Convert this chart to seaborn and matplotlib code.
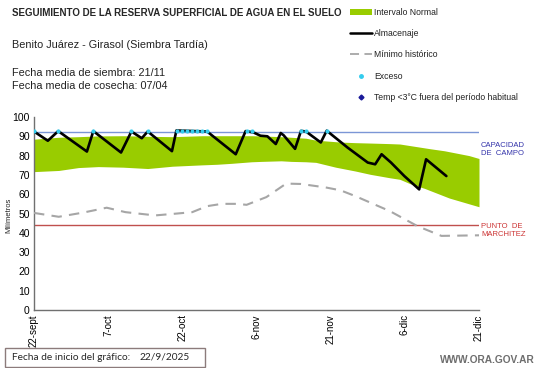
import numpy as np
import pandas as pd
import matplotlib
matplotlib.use("Agg")
import matplotlib.pyplot as plt
import seaborn as sns
from matplotlib.lines import Line2D
from matplotlib.patches import Patch, Rectangle

# ---------------- data ----------------
tick_days = [0, 15, 30, 45, 60, 75, 90]
tick_labels = ["22-sept", "7-oct", "22-oct", "6-nov", "21-nov", "6-dic", "21-dic"]

band_days = [0, 5, 9, 13, 18, 23, 28, 34, 37, 40, 44, 46, 50, 52, 55, 57, 61, 62, 65, 68, 72, 74, 76, 79, 80, 83, 84, 88, 90]
band_upper = [88.5, 89.5, 89.8, 90.2, 90.3, 90.0, 89.8, 90.3, 90.3, 90.3, 90.3, 90.2, 89.8, 89.5, 89.0, 88.0, 87.2, 87.0, 86.7, 86.5, 86.2, 86.0, 85.2, 84.0, 83.6, 82.5, 82.0, 80.0, 78.5]
band_lower = [71.7, 72.3, 73.8, 74.3, 74.0, 73.3, 74.5, 75.2, 75.5, 76.0, 76.8, 77.0, 77.3, 77.0, 76.8, 76.5, 74.0, 73.5, 72.0, 70.3, 68.5, 67.7, 65.5, 63.0, 62.0, 59.0, 58.0, 55.0, 53.5]

stor_days = [0, 2.8, 4.9, 10.7, 12, 17.6, 19.7, 21.8, 23, 27.9, 28.8, 35, 40.8, 42.8, 44.4, 45.8, 47.2, 48.9, 49.9, 50.5, 52.8, 54, 55, 58, 59.2, 63.4, 67.5, 69, 70.3, 72.2, 74.9, 77.9, 79.3, 83.4]
stor_vals = [92.5, 87.7, 92.7, 82.1, 92.7, 81.6, 92.5, 89.0, 92.5, 82.3, 93.0, 92.5, 80.7, 92.7, 92.0, 90.3, 90.0, 86.0, 91.7, 90.5, 83.5, 92.8, 92.5, 86.8, 92.9, 84.2, 76.4, 75.5, 80.7, 76.4, 69.4, 62.5, 78.1, 69.4]

min_days = [0, 5, 10, 14.7, 18.5, 24.5, 29, 32, 35, 38, 41, 43, 47, 51, 54, 59, 62, 65, 72, 77.6, 82.4, 90]
min_vals = [50.3, 48.3, 50.5, 53.0, 50.7, 49.0, 50.0, 50.7, 53.8, 55.0, 55.0, 54.5, 58.5, 65.5, 65.3, 63.5, 62.0, 59.0, 51.2, 43.4, 38.4, 38.7]

exc_days = [0, 4.9, 12, 19.7, 23, 29, 30, 31, 32, 33, 34, 35, 43, 44, 54, 55, 59.2]
exc_vals = [92.5] * len(exc_days)

capacidad = 92
marchitez = 44

# ---------------- figure ----------------
sns.set_style("white")
plt.rcParams["font.family"] = ["Liberation Sans", "DejaVu Sans"]

W, H = 541, 368
fig = plt.figure(figsize=(W / 100, H / 100), dpi=100)
ax = fig.add_axes([34 / W, 1 - 310 / H, (479 - 34) / W, (310 - 117) / H])

green = "#99cc00"
ax.fill_between(band_days, band_lower, band_upper, color=green, linewidth=0, zorder=1)

ax.axhline(capacidad, color="#7b96d6", lw=1.0, zorder=2)
ax.axhline(marchitez, color="#c0504d", lw=1.0, zorder=2)

df_min = pd.DataFrame({"day": min_days, "val": min_vals})
sns.lineplot(data=df_min, x="day", y="val", ax=ax, color="#a6a6a6", lw=1.5,
             linestyle=(0, (5, 3.5)), zorder=3)

df_st = pd.DataFrame({"day": stor_days, "val": stor_vals})
sns.lineplot(data=df_st, x="day", y="val", ax=ax, color="black", lw=1.9, zorder=4)

df_ex = pd.DataFrame({"day": exc_days, "val": exc_vals})
sns.scatterplot(data=df_ex, x="day", y="val", ax=ax, color="#33ccee", s=9,
                linewidth=0, zorder=5)

ax.set_xlim(0, 90)
ax.set_ylim(0, 100)
ax.set_xticks(tick_days)
ax.set_xticklabels(tick_labels, rotation=90, fontsize=7)
ax.set_yticks(range(0, 101, 10))
ax.tick_params(axis="y", labelsize=7.5, length=4, direction="inout", width=0.8,
               colors="#404040", pad=1)
ax.tick_params(axis="x", length=4, direction="inout", width=0.8, colors="#404040", pad=1)
for lab in ax.get_xticklabels() + ax.get_yticklabels():
    lab.set_color("black")
ax.set_xlabel("")
ax.set_ylabel("")
for s in ["top", "right"]:
    ax.spines[s].set_visible(False)
for s in ["left", "bottom"]:
    ax.spines[s].set_color("#707070")
    ax.spines[s].set_linewidth(1.0)

fig.text(9 / W, 1 - 215 / H, "Milímetros", rotation=90, fontsize=5.5,
         ha="center", va="center")

fig.text(481 / W, 1 - 150 / H, "CAPACIDAD\nDE  CAMPO", fontsize=5.5, color="#3333aa",
         ha="left", va="center", linespacing=1.2)
fig.text(481 / W, 1 - 230 / H, "PUNTO  DE\nMARCHITEZ", fontsize=5.5, color="#cc3333",
         ha="left", va="center", linespacing=1.2)

# header texts
fig.text(12 / W, 1 - 13 / H, "SEGUIMIENTO DE LA RESERVA SUPERFICIAL DE AGUA EN EL SUELO",
         fontsize=7.0, fontweight="bold", ha="left", va="center")
fig.text(12 / W, 1 - 45 / H, "Benito Juárez - Girasol (Siembra Tardía)",
         fontsize=7.8, ha="left", va="center", color="#222222")
fig.text(12 / W, 1 - 73 / H, "Fecha media de siembra: 21/11",
         fontsize=7.8, ha="left", va="center", color="#222222")
fig.text(12 / W, 1 - 86 / H, "Fecha media de cosecha: 07/04",
         fontsize=7.8, ha="left", va="center", color="#222222")

# legend
handles = [
    Patch(facecolor=green, edgecolor="none"),
    Line2D([], [], color="black", lw=1.8),
    Line2D([], [], color="#a6a6a6", lw=1.3, linestyle=(0, (5, 3))),
    Line2D([], [], color="#33ccee", marker="o", markersize=2.5, linestyle="none"),
    Line2D([], [], color="#1a1a99", marker="D", markersize=2.5, linestyle="none"),
]
labels = ["Intervalo Normal", "Almacenaje", "Mínimo histórico", "Exceso",
          "Temp <3°C fuera del período habitual"]
leg = fig.legend(handles, labels, loc="upper left", bbox_to_anchor=(350 / W, 1 - 8 / H),
                 frameon=False, fontsize=6.2, handlelength=2.5, handleheight=0.8,
                 handletextpad=0.3, labelspacing=1.42, borderaxespad=0, borderpad=0)
for t in leg.get_texts():
    t.set_color("#222222")

# bottom box
fig.patches.append(Rectangle((5 / W, 1 - 367 / H), 200 / W, 19 / H, transform=fig.transFigure,
                             facecolor="white", edgecolor="#8c7b7b", lw=1.0))
fig.text(12 / W, 1 - 357 / H, "Fecha de inicio del gráfico:", fontsize=7.3,
         family=["Lato", "DejaVu Sans"], ha="left", va="center")
fig.text(140 / W, 1 - 357 / H, "22/9/2025", fontsize=7.3,
         family=["Lato", "DejaVu Sans"], ha="left", va="center")

fig.text(535 / W, 1 - 360 / H, "WWW.ORA.GOV.AR", fontsize=7.3, color="#6e6e6e",
         ha="right", va="center", fontweight="bold")

fig.savefig("out.png", dpi=100)
